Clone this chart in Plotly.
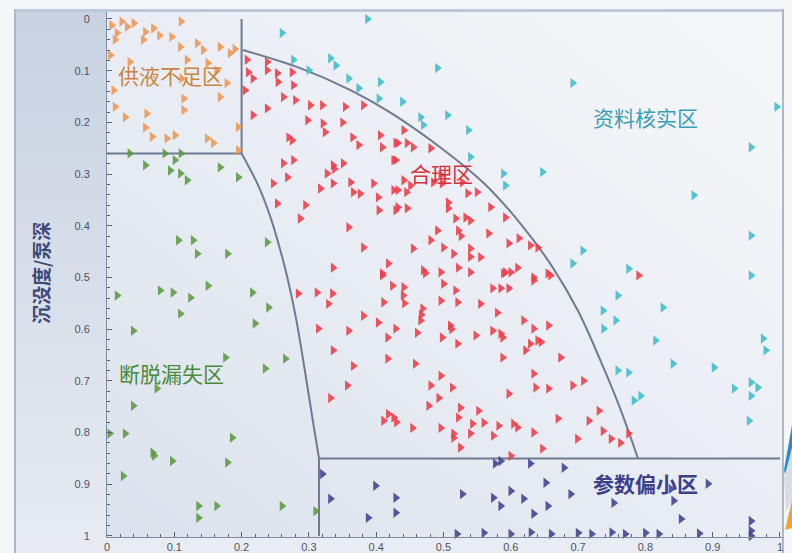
import zlib, struct, base64
import numpy as np
import plotly.graph_objects as go

# ---------------- data ----------------
orange_x = [0.007, 0.015, 0.030, 0.012, 0.057, 0.069, 0.096, 0.110, 0.109, 0.134, 0.143, 0.168, 0.183,
            0.054, 0.163, 0.178, 0.168, 0.114, 0.111, 0.010, 0.012, 0.027, 0.059, 0.057, 0.067, 0.089,
            0.101, 0.114, 0.149, 0.158, 0.195, 0.195, 0.034, 0.119, 0.078, 0.022, 0.040, 0.005, 0.190, 0.150]
orange_y = [0.012, 0.027, 0.015, 0.040, 0.025, 0.018, 0.035, 0.005, 0.054, 0.047, 0.060, 0.054, 0.066,
            0.040, 0.100, 0.124, 0.151, 0.154, 0.115, 0.138, 0.170, 0.190, 0.183, 0.210, 0.228, 0.231,
            0.225, 0.176, 0.231, 0.240, 0.209, 0.254, 0.083, 0.079, 0.032, 0.005, 0.008, 0.070, 0.058, 0.085]

red_x = [0.208, 0.210, 0.217, 0.205, 0.238, 0.238, 0.253, 0.254, 0.275, 0.277, 0.262, 0.280, 0.217, 0.238,
         0.302, 0.320, 0.354, 0.381, 0.298, 0.321, 0.324, 0.350, 0.365, 0.374, 0.406, 0.409, 0.432, 0.429,
         0.270, 0.275, 0.262, 0.277, 0.247, 0.268, 0.253, 0.295, 0.287, 0.336, 0.351, 0.338, 0.327, 0.317,
         0.336, 0.362, 0.366, 0.376, 0.396, 0.403, 0.426, 0.359, 0.381, 0.404, 0.429, 0.336, 0.409, 0.418,
         0.441, 0.429, 0.446, 0.455, 0.481, 0.426, 0.441, 0.451, 0.432, 0.445, 0.485, 0.496, 0.498, 0.528,
         0.536, 0.550, 0.432, 0.446, 0.507, 0.507, 0.570, 0.592, 0.518, 0.533, 0.540, 0.491, 0.522, 0.526,
         0.567, 0.455, 0.481, 0.500, 0.515, 0.540, 0.540, 0.555, 0.597, 0.612, 0.629, 0.640, 0.470, 0.496,
         0.522, 0.540, 0.592, 0.610, 0.634, 0.655, 0.790,
         0.284, 0.312, 0.335, 0.329, 0.381, 0.403, 0.411, 0.409, 0.424, 0.314, 0.359, 0.417, 0.429, 0.336,
         0.417, 0.366, 0.357, 0.332, 0.418, 0.426, 0.411,
         0.441, 0.440, 0.500, 0.518, 0.473, 0.589, 0.600, 0.634, 0.659, 0.573, 0.585, 0.597, 0.442, 0.496,
         0.521, 0.555, 0.580, 0.469, 0.467, 0.466, 0.461, 0.498, 0.510, 0.512, 0.521, 0.548, 0.573, 0.585,
         0.588, 0.619, 0.634, 0.656, 0.622, 0.629, 0.640, 0.645, 0.674, 0.588, 0.458, 0.496, 0.481, 0.513,
         0.634, 0.637, 0.656, 0.692, 0.708, 0.597, 0.493, 0.478, 0.525, 0.552, 0.522, 0.543, 0.560, 0.582,
         0.604, 0.610, 0.496, 0.515, 0.515, 0.540, 0.574, 0.670, 0.716, 0.731, 0.634, 0.699, 0.737, 0.749,
         0.763, 0.775, 0.525, 0.647, 0.454, 0.430, 0.600]
red_y = [0.079, 0.103, 0.115, 0.138, 0.083, 0.099, 0.105, 0.122, 0.103, 0.128, 0.151, 0.157, 0.186, 0.173,
         0.167, 0.167, 0.170, 0.167, 0.196, 0.202, 0.219, 0.200, 0.229, 0.244, 0.225, 0.248, 0.240, 0.273,
         0.229, 0.235, 0.279, 0.273, 0.318, 0.306, 0.357, 0.360, 0.386, 0.283, 0.279, 0.290, 0.299, 0.328,
         0.318, 0.316, 0.335, 0.338, 0.318, 0.345, 0.331, 0.403, 0.442, 0.370, 0.370, 0.481, 0.492, 0.473,
         0.215, 0.240, 0.240, 0.248, 0.250, 0.273, 0.312, 0.322, 0.331, 0.335, 0.316, 0.302, 0.318, 0.316,
         0.337, 0.335, 0.364, 0.366, 0.355, 0.366, 0.364, 0.384, 0.386, 0.384, 0.390, 0.409, 0.409, 0.420,
         0.415, 0.444, 0.428, 0.442, 0.454, 0.444, 0.460, 0.461, 0.434, 0.424, 0.438, 0.442, 0.486, 0.490,
         0.481, 0.490, 0.490, 0.481, 0.500, 0.492, 0.496,
         0.531, 0.529, 0.531, 0.551, 0.574, 0.587, 0.548, 0.496, 0.516, 0.599, 0.603, 0.616, 0.599, 0.641,
         0.657, 0.671, 0.709, 0.733, 0.764, 0.771, 0.777,
         0.519, 0.535, 0.512, 0.525, 0.492, 0.492, 0.490, 0.506, 0.496, 0.521, 0.521, 0.521, 0.550, 0.545,
         0.548, 0.551, 0.568, 0.560, 0.572, 0.583, 0.607, 0.616, 0.593, 0.600, 0.628, 0.612, 0.603, 0.609,
         0.616, 0.583, 0.599, 0.593, 0.641, 0.628, 0.622, 0.625, 0.655, 0.655, 0.667, 0.690, 0.709, 0.713,
         0.686, 0.713, 0.715, 0.709, 0.700, 0.725, 0.733, 0.748, 0.752, 0.758, 0.771, 0.783, 0.781, 0.787,
         0.783, 0.790, 0.791, 0.802, 0.810, 0.802, 0.806, 0.773, 0.777, 0.758, 0.800, 0.812, 0.797, 0.812,
         0.820, 0.802, 0.829, 0.831, 0.791, 0.780, 0.845]

cyan_x = [0.260, 0.277, 0.300, 0.332, 0.340, 0.359, 0.374, 0.406, 0.404, 0.387, 0.491, 0.439, 0.466, 0.470,
          0.506, 0.537, 0.540, 0.589, 0.592, 0.647, 0.692, 0.957, 0.872, 0.957, 0.707, 0.692, 0.775, 0.957,
          0.759, 0.826, 0.737, 0.756, 0.738, 0.815, 0.975, 0.979, 0.841, 0.902, 0.759, 0.775, 0.932, 0.957,
          0.967, 0.957, 0.783, 0.793, 0.954, 0.995]
cyan_y = [0.027, 0.079, 0.099, 0.076, 0.090, 0.115, 0.134, 0.122, 0.154, 0.000, 0.095, 0.160, 0.190, 0.205,
          0.186, 0.215, 0.267, 0.299, 0.322, 0.296, 0.124, 0.248, 0.341, 0.419, 0.448, 0.473, 0.483, 0.496,
          0.535, 0.558, 0.564, 0.583, 0.599, 0.622, 0.618, 0.641, 0.667, 0.674, 0.680, 0.684, 0.715, 0.703,
          0.713, 0.729, 0.738, 0.729, 0.777, 0.170]

green_x = [0.034, 0.086, 0.110, 0.057, 0.094, 0.101, 0.109, 0.119, 0.168, 0.195, 0.106, 0.128, 0.238, 0.134,
           0.179, 0.015, 0.079, 0.098, 0.124, 0.150, 0.109, 0.216, 0.240, 0.220, 0.039, 0.176, 0.265, 0.235,
           0.074, 0.039, 0.027, 0.004, 0.068, 0.070, 0.097, 0.186, 0.179, 0.024, 0.136, 0.163, 0.136, 0.260,
           0.310]
green_y = [0.260, 0.260, 0.260, 0.283, 0.293, 0.273, 0.299, 0.312, 0.287, 0.306, 0.428, 0.428, 0.432, 0.454,
           0.454, 0.535, 0.525, 0.529, 0.539, 0.516, 0.570, 0.529, 0.558, 0.589, 0.603, 0.655, 0.657, 0.676,
           0.715, 0.748, 0.802, 0.802, 0.839, 0.845, 0.855, 0.810, 0.858, 0.884, 0.942, 0.942, 0.965, 0.942,
           0.952]

blue_x = [0.320, 0.332, 0.399, 0.388, 0.429, 0.429, 0.528, 0.574, 0.585, 0.600, 0.619, 0.634, 0.655, 0.652,
          0.689, 0.679, 0.585, 0.577, 0.629, 0.753, 0.838, 0.842, 0.853, 0.893, 0.957, 0.957, 0.957,
          0.520, 0.560, 0.600, 0.630, 0.660, 0.700, 0.720, 0.750, 0.770, 0.800, 0.820, 0.880]
blue_y = [0.880, 0.928, 0.903, 0.965, 0.926, 0.955, 0.919, 0.926, 0.942, 0.913, 0.928, 0.957, 0.942, 0.897,
          0.919, 0.868, 0.855, 0.860, 0.860, 0.936, 0.909, 0.932, 0.967, 0.899, 0.971, 0.990, 1.000,
          0.996, 0.994, 0.996, 0.993, 0.996, 0.994, 0.996, 0.993, 0.996, 0.994, 0.996, 0.995]

# region boundaries
outer_arc_x = [0.202, 0.287, 0.361, 0.420, 0.495, 0.562, 0.617, 0.662, 0.700, 0.733, 0.763, 0.789]
outer_arc_y = [0.060, 0.095, 0.137, 0.180, 0.248, 0.320, 0.400, 0.480, 0.565, 0.660, 0.755, 0.850]
inner_arc_x = [0.200, 0.224, 0.242, 0.256, 0.268, 0.281, 0.294, 0.305, 0.315]
inner_arc_y = [0.260, 0.320, 0.380, 0.440, 0.500, 0.580, 0.680, 0.770, 0.850]
top_box_x = [0.0, 0.2, 0.2]
top_box_y = [0.26, 0.26, 0.0]
bottom_box_x = [0.315, 0.315, 1.0]
bottom_box_y = [1.0, 0.85, 0.85]

zone_labels = ["供液不足区", "合理区", "资料核实区", "断脱漏失区", "参数偏小区"]
zone_label_x = [0.094, 0.497, 0.800, 0.096, 0.800]
zone_label_y = [0.108, 0.297, 0.190, 0.684, 0.897]
zone_label_colors = ["#c98444", "#d8323c", "#3a9fb6", "#4a8a3a", "#3b3f8c"]

y_title = "沉没度/泵深"

# ---------------- background image (gradients) ----------------
W, H = 792, 553
PL, PR, PT, PB = 107, 783, 12, 537
img = np.zeros((H, W, 3), dtype=float)
img[:, :] = (245, 246, 248)
yy, xx = np.mgrid[0:H, 0:W].astype(float)
band = (xx >= 15) & (xx < PL) & (yy >= 9)
tv = np.clip((yy - 9) / (H - 9), 0, 1)
c_top = np.array([200, 210, 226]); c_bot = np.array([232, 236, 242])
for k in range(3):
    img[..., k] = np.where(band, c_top[k] + (c_bot[k] - c_top[k]) * tv, img[..., k])
pa = (xx >= PL) & (xx < PR) & (yy >= PT) & (yy < PB)
xn = (xx - PL) / (PR - PL); yn = (yy - PT) / (PB - PT)
t = np.clip(0.55 * xn + 0.55 * (1 - yn), 0, 1) ** 0.9
c_dark = np.array([219, 226, 237]); c_light = np.array([245, 246, 249])
for k in range(3):
    img[..., k] = np.where(pa, c_dark[k] + (c_light[k] - c_dark[k]) * t, img[..., k])
bs = (xx >= PL) & (xx < PR) & (yy >= PB)
for k, v in enumerate((233, 237, 243)):
    img[..., k] = np.where(bs, v, img[..., k])
tb = (xx >= 15) & (xx < PR) & (yy >= 9) & (yy < PT)
for k, v in enumerate((188, 199, 217)):
    img[..., k] = np.where(tb, v, img[..., k])
fl = ((xx >= 14) & (xx < 16) & (yy >= 9)) | ((xx >= PR - 1) & (xx < PR + 1) & (yy >= 9))
for k, v in enumerate((172, 184, 204)):
    img[..., k] = np.where(fl, v, img[..., k])
img = np.clip(img, 0, 255).astype(np.uint8)


def png_uri(arr):
    h, w, _ = arr.shape
    raw = b"".join(b"\x00" + arr[i].tobytes() for i in range(h))

    def chunk(tag, data):
        c = struct.pack(">I", len(data)) + tag + data
        return c + struct.pack(">I", zlib.crc32(tag + data) & 0xFFFFFFFF)

    png = (b"\x89PNG\r\n\x1a\n" + chunk(b"IHDR", struct.pack(">IIBBBBB", w, h, 8, 2, 0, 0, 0))
           + chunk(b"IDAT", zlib.compress(raw, 9)) + chunk(b"IEND", b""))
    return "data:image/png;base64," + base64.b64encode(png).decode()


bg_uri = png_uri(img)

# ---------------- figure ----------------
fig = go.Figure()
line_style = dict(color="#6d7b93", width=2)
for lx, ly, shp in [(outer_arc_x, outer_arc_y, "spline"), (inner_arc_x, inner_arc_y, "spline"),
                    (top_box_x, top_box_y, "linear"), (bottom_box_x, bottom_box_y, "linear")]:
    fig.add_trace(go.Scatter(x=lx, y=ly, mode="lines", line=dict(shape=shp, **line_style),
                             hoverinfo="skip", showlegend=False, cliponaxis=False))

for xs, ys, col in [(orange_x, orange_y, "#ec9652"), (green_x, green_y, "#5c9a42"),
                    (cyan_x, cyan_y, "#3fbccb"), (blue_x, blue_y, "#3d418f"),
                    (red_x, red_y, "#ee3b47")]:
    fig.add_trace(go.Scatter(x=xs, y=ys, mode="markers", showlegend=False, cliponaxis=False,
                             marker=dict(symbol="triangle-right", size=9, color=col, opacity=0.88,
                                         line=dict(width=0))))

for txt, tx, ty, col in zip(zone_labels, zone_label_x, zone_label_y, zone_label_colors):
    fig.add_annotation(x=tx, y=ty, text=txt, showarrow=False, xanchor="center", yanchor="middle",
                       font=dict(family="Noto Sans CJK SC", size=21, color=col,
                                 weight="bold" if txt == "参数偏小区" else "normal"))

plot_w = PR - PL
plot_h = PB - PT
fig.add_annotation(xref="paper", yref="paper", x=(40 - PL) / plot_w, y=1 - (273 - PT) / plot_h,
                   xanchor="center", yanchor="middle",
                   text=y_title, textangle=-90, showarrow=False,
                   font=dict(family="Noto Sans CJK SC", size=19, color="#3c4a7a", weight="bold"))

fig.add_layout_image(source=bg_uri, xref="paper", yref="paper",
                     x=-PL / plot_w, y=1 + PT / plot_h, sizex=W / plot_w, sizey=H / plot_h,
                     xanchor="left", yanchor="top", sizing="stretch", layer="below")


def px2paper(px, py):
    return (px - PL) / plot_w, 1 - (py - PT) / plot_h


def path(points):
    pts = [px2paper(a, b) for a, b in points]
    return "M " + " L ".join(f"{a:.4f},{b:.4f}" for a, b in pts) + " Z"


fig.add_shape(type="path", xref="paper", yref="paper", path=path([(784, 470), (792, 425), (792, 448), (786, 478)]),
              fillcolor="#1f8fd2", line=dict(width=0))
fig.add_shape(type="path", xref="paper", yref="paper", path=path([(784, 478), (792, 448), (792, 500), (786, 512)]),
              fillcolor="#d9dde3", line=dict(width=0))
fig.add_shape(type="path", xref="paper", yref="paper", path=path([(785, 530), (792, 500), (792, 528)]),
              fillcolor="#f2a431", line=dict(width=0))

axis_common = dict(showgrid=False, zeroline=False, showline=True, linecolor="#7f8ba0", linewidth=1,
                   ticks="inside", ticklen=5, tickcolor="#5a6070", tickwidth=1, dtick=0.1, tick0=0,
                   automargin=False,
                   tickfont=dict(family="Liberation Sans", size=11, color="#4f5360"),
                   minor=dict(ticks="inside", ticklen=3, dtick=0.02, tickcolor="#5a6070"))

fig.update_xaxes(range=[0, 1.0045], **axis_common)
fig.update_yaxes(range=[1.002, -0.0135], ticklabelstandoff=14, **axis_common)

fig.update_layout(width=W, height=H, margin=dict(l=PL, r=W - PR, t=PT, b=H - PB, autoexpand=False),
                  paper_bgcolor="#f5f6f8", plot_bgcolor="rgba(0,0,0,0)", showlegend=False)

fig.write_html("out.html", config={"displayModeBar": False},
               post_script="document.body.style.margin='0';document.body.style.padding='0';")
